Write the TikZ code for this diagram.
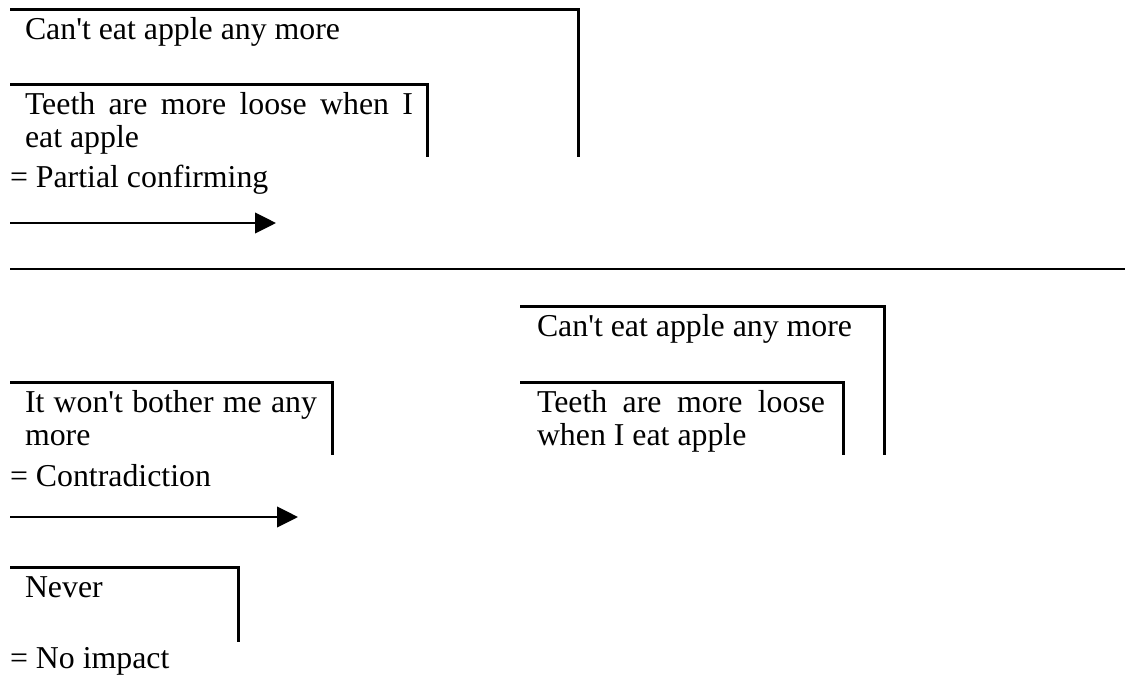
\documentclass[tikz,border=0pt]{standalone}
\usepackage{fontspec}
\setmainfont{Liberation Serif}
\usetikzlibrary{arrows.meta}

\newcommand{\bodyfont}{\fontsize{23.87pt}{25.1pt}\selectfont}
\newcommand{\apos}{\textquotesingle}

\tikzset{
  frame/.style={line width=2.25pt},
  rule/.style={line width=2pt},
  arr/.style={line width=1.5pt, -{Triangle[length=15.75pt, width=15.5pt]}},
  txt/.style={anchor=base west, inner sep=0pt, outer sep=0pt, font=\bodyfont}
}

\begin{document}
\begin{tikzpicture}[x=0.75pt, y=-0.75pt]
  \useasboundingbox (0,0) rectangle (1125,679);

  % ---- upper example: partial confirming ----
  \coordinate (b1a) at (10,9);   \coordinate (b1b) at (578,9);   \coordinate (b1c) at (578,157);
  \coordinate (b2a) at (10,84);  \coordinate (b2b) at (427,84);  \coordinate (b2c) at (427,157);
  \draw[frame] (b1a) -- (b1b) -- (b1c);
  \draw[frame] (b2a) -- (b2b) -- (b2c);
  \node[txt] (t1) at (25,39.5) {Can\apos t eat apple any more};
  \node[txt] (t2) at (25,114) {\parbox[t]{291pt}{\makebox[291pt][s]{Teeth are more loose when I}\\eat apple}};
  \node[txt] (l1) at (10,187) {= Partial confirming};
  \coordinate (a1s) at (10,223); \coordinate (a1e) at (276,223);
  \draw[arr] (a1s) -- (a1e);

  % ---- separator ----
  \coordinate (sepL) at (10,269); \coordinate (sepR) at (1125,269);
  \draw[rule] (sepL) -- (sepR);

  % ---- lower example: contradiction ----
  \coordinate (b3a) at (520,306); \coordinate (b3b) at (884,306); \coordinate (b3c) at (884,455);
  \coordinate (b4a) at (520,382); \coordinate (b4b) at (843,382); \coordinate (b4c) at (843,455);
  \coordinate (b5a) at (10,382);  \coordinate (b5b) at (332,382); \coordinate (b5c) at (332,455);
  \draw[frame] (b3a) -- (b3b) -- (b3c);
  \draw[frame] (b4a) -- (b4b) -- (b4c);
  \draw[frame] (b5a) -- (b5b) -- (b5c);
  \node[txt] (t3) at (537,336.5) {Can\apos t eat apple any more};
  \node[txt] (t4) at (537,412.5) {\parbox[t]{216pt}{\makebox[216pt][s]{Teeth are more loose}\\when I eat apple}};
  \node[txt] (t5) at (25,412.5) {\parbox[t]{219pt}{\makebox[219pt][s]{It won\apos t bother me any}\\more}};
  \node[txt] (l2) at (10,486) {= Contradiction};
  \coordinate (a2s) at (10,517); \coordinate (a2e) at (298,517);
  \draw[arr] (a2s) -- (a2e);

  % ---- no impact ----
  \coordinate (b6a) at (10,567); \coordinate (b6b) at (238,567); \coordinate (b6c) at (238,642);
  \draw[frame] (b6a) -- (b6b) -- (b6c);
  \node[txt] (t6) at (25,597) {Never};
  \node[txt] (l3) at (10,668) {= No impact};
\end{tikzpicture}
\end{document}
